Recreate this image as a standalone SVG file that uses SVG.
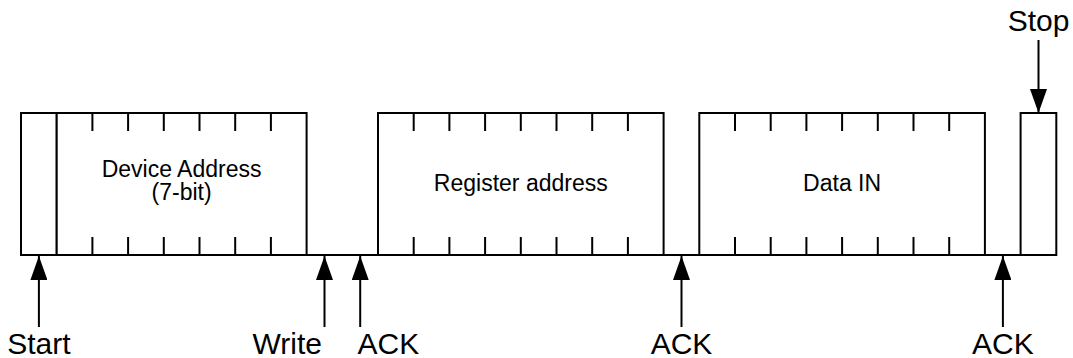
<svg xmlns="http://www.w3.org/2000/svg" width="1073" height="358" viewBox="0 0 1073 358">
  <defs>
    <style>
      .box { fill: #ffffff; stroke: #000000; stroke-width: 2; }
      .tick { stroke: #000000; stroke-width: 2; fill: none; }
      .wire { stroke: #000000; stroke-width: 2; fill: none; }
      .arrow { stroke: #000000; stroke-width: 2; fill: none; marker-end: url(#head); }
      .inner { font-family: "Liberation Sans", Arial, sans-serif; font-size: 23px; fill: #000000; text-anchor: middle; }
      .outer { font-family: "Liberation Sans", Arial, sans-serif; font-size: 30px; fill: #000000; text-anchor: middle; }
    </style>
    <marker id="head" markerUnits="userSpaceOnUse" markerWidth="24" markerHeight="17" viewBox="0 0 24 17" refX="24" refY="8.5" orient="auto">
      <path d="M0,0 L24,8.5 L0,17 Z" fill="#000000"/>
    </marker>
  </defs>

  <g id="start-bit">
    <rect class="box" x="21" y="113" width="35.7" height="142"/>
  </g>

  <g id="device-address">
    <rect class="box" x="56.7" y="113" width="249.9" height="142"/>
    <path class="tick" d="M92.4,113V131 M128.1,113V131 M163.8,113V131 M199.5,113V131 M235.2,113V131 M270.9,113V131
                          M92.4,237V255 M128.1,237V255 M163.8,237V255 M199.5,237V255 M235.2,237V255 M270.9,237V255"/>
    <text class="inner" x="181.6" y="176.5">Device Address</text>
    <text class="inner" x="181.6" y="200">(7-bit)</text>
  </g>

  <g id="register-address">
    <rect class="box" x="378" y="113" width="285.6" height="142"/>
    <path class="tick" d="M413.7,113V131 M449.4,113V131 M485.1,113V131 M520.8,113V131 M556.5,113V131 M592.2,113V131 M627.9,113V131
                          M413.7,237V255 M449.4,237V255 M485.1,237V255 M520.8,237V255 M556.5,237V255 M592.2,237V255 M627.9,237V255"/>
    <text class="inner" x="520.8" y="191">Register address</text>
  </g>

  <g id="data-in">
    <rect class="box" x="699.3" y="113" width="285.6" height="142"/>
    <path class="tick" d="M735,113V131 M770.7,113V131 M806.4,113V131 M842.1,113V131 M877.8,113V131 M913.5,113V131 M949.2,113V131
                          M735,237V255 M770.7,237V255 M806.4,237V255 M842.1,237V255 M877.8,237V255 M913.5,237V255 M949.2,237V255"/>
    <text class="inner" x="842.1" y="191">Data IN</text>
  </g>

  <g id="stop-bit">
    <rect class="box" x="1020.6" y="113" width="35.7" height="142"/>
  </g>

  <g id="connectors">
    <path class="wire" d="M21,255 H1056.3"/>
    <path class="arrow" d="M38.9,327 V256"/>
    <path class="arrow" d="M324.5,327 V256"/>
    <path class="arrow" d="M360.2,327 V256"/>
    <path class="arrow" d="M681.5,327 V256"/>
    <path class="arrow" d="M1002.9,327 V256"/>
    <path class="arrow" d="M1038.5,40 V113"/>
  </g>

  <g id="labels">
    <text class="outer" x="38.9" y="354">Start</text>
    <text class="outer" x="322" y="354" style="text-anchor:end">Write</text>
    <text class="outer" x="357.5" y="354" style="text-anchor:start">ACK</text>
    <text class="outer" x="681.5" y="354">ACK</text>
    <text class="outer" x="1002.9" y="354">ACK</text>
    <text class="outer" x="1038.5" y="31">Stop</text>
  </g>
</svg>
